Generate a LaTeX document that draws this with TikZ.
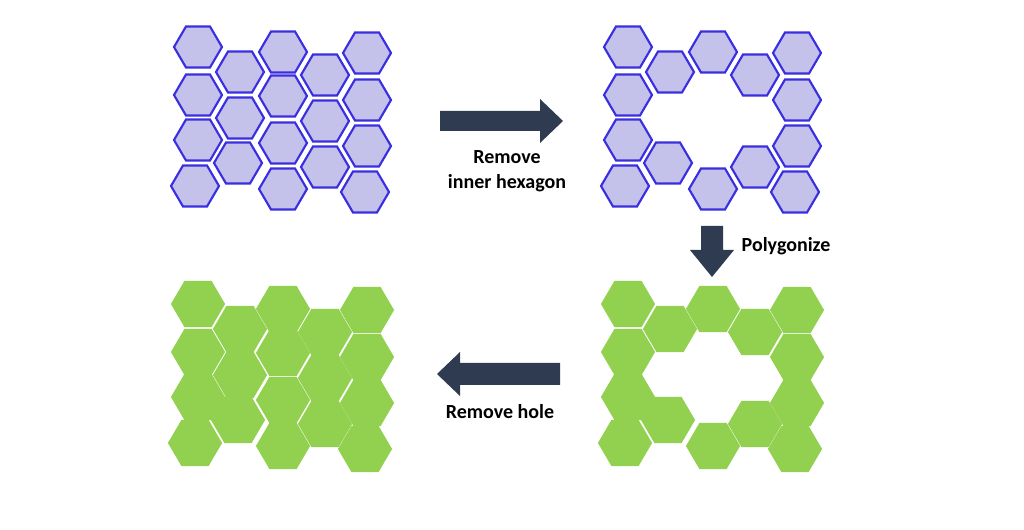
\documentclass[tikz,border=0pt]{standalone}
\usepackage{fontspec}
\setmainfont{Carlito}
\usepackage{tikz}

\definecolor{hexfill}{HTML}{C4C1EA}
\definecolor{hexline}{HTML}{3A2FE0}
\definecolor{polygreen}{HTML}{92D050}
\definecolor{arrowblue}{HTML}{2E3B50}
\tikzset{
  cell/.style={fill=hexfill,draw=hexline,line width=1.6pt,line join=miter},
  poly/.style={fill=polygreen,draw=polygreen,line width=4pt,line join=miter},
  bigarrow/.style={fill=arrowblue,draw=none},
  label/.style={font=\bfseries\fontsize{15}{19}\selectfont,align=center}
}
\newcommand{\hexcell}[3]{% style, x, y
  \path[#1] (#2+24,#3) -- (#2+12,#3+20.5) -- (#2-12,#3+20.5) -- (#2-24,#3)
    -- (#2-12,#3-20.5) -- (#2+12,#3-20.5) -- cycle;}

\begin{document}
\begin{tikzpicture}[x=0.75pt,y=-0.75pt]
\useasboundingbox (0,0) rectangle (1024,530);

% full grid
\foreach \x/\y in {198/47,198/95,198/140,195/186,240/72,240/118,238/163,
  283/52,283/96,283/143,283/189,325/75,325/121,325/167,
  367/53,367/100,367/146,365/192}
  \hexcell{cell}{\x}{\y};

% grid without inner hexagons
\foreach \x/\y in {198/47,198/95,198/140,195/186,240/72,238/163,
  283/52,283/189,325/75,325/167,367/53,367/100,367/146,365/192}
  \hexcell{cell}{\x+430}{\y};

% polygon with hole
\foreach \x/\y in {198/47,198/95,198/140,195/186,240/72,238/163,
  283/52,283/189,325/75,325/167,367/53,367/100,367/146,365/192}
  \hexcell{poly}{\x+430}{\y+257};

% polygon without hole
\foreach \x/\y in {198/47,198/95,198/140,195/186,240/72,240/118,238/163,
  283/52,283/96,283/143,283/189,325/75,325/121,325/167,
  367/53,367/100,367/146,365/192}
  \hexcell{poly}{\x}{\y+257};

% arrows
\path[bigarrow] (440,111) -- (540,111) -- (540,99) -- (563,121) -- (540,143)
  -- (540,131) -- (440,131) -- cycle;
\path[bigarrow] (701,226) -- (723,226) -- (723,250) -- (734,250) -- (712,277)
  -- (690,250) -- (701,250) -- cycle;
\path[bigarrow] (560,363) -- (460,363) -- (460,352) -- (437,374) -- (460,396)
  -- (460,385) -- (560,385) -- cycle;

\node[label] (remove) at (507,171) {Remove\\inner hexagon};
\node[label,anchor=west] (polygonize) at (737,246) {Polygonize};
\node[label] (hole) at (500,412) {Remove hole};
\end{tikzpicture}
\end{document}
